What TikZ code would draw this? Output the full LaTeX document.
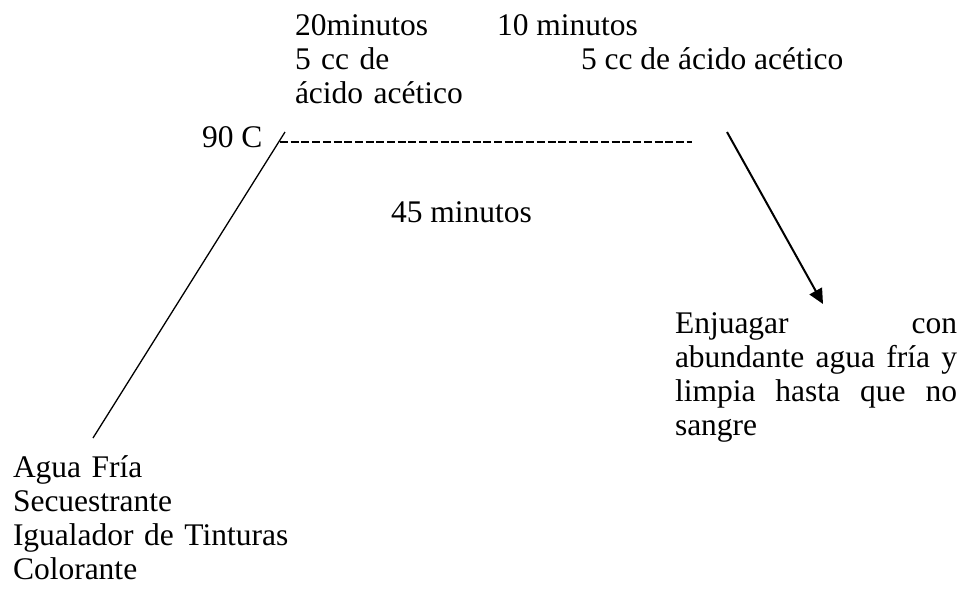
\documentclass[tikz,border=0pt]{standalone}
\usepackage{fontspec}
\setmainfont{Liberation Serif}
\usetikzlibrary{arrows.meta}
\begin{document}
\begin{tikzpicture}[x=1pt,y=-1pt]
		    \tikzstyle{every node}=[inner sep=0pt,outer sep=0pt,font=\fontsize{31.5}{34}\selectfont]
		    \tikzstyle{txt}=[anchor=base west]
		    \tikzstyle{blk}=[anchor=base west,align=left]
		    \useasboundingbox (0,0) rectangle (966,592);
		    \node[txt] (t20) at (295,35) {20minutos};
		    \node[txt] (t10) at (497,35) {10 minutos};
		    \node[blk,text width=220] (acidA) at (295,69) {5 cc de\\ácido acético};
		    \node[txt] (acidB) at (581,69) {5 cc de ácido acético};
		    \node[txt] (temp) at (202,147) {90 C};
		    \node[txt] (t45) at (391,222) {45 minutos};
		    \node[blk,text width=282,align=justify] (rinse) at (675,333)
		        {Enjuagar con\linebreak abundante agua fría y\linebreak limpia hasta que no\linebreak sangre};
		    \node[blk,text width=320] (bath) at (13,477)
		        {Agua Fría\\Secuestrante\\Igualador de Tinturas\\Colorante};
		    \coordinate (low) at (93,438);
		    \coordinate (high) at (285,132);
		    \coordinate (flatA) at (280,142);
		    \coordinate (flatB) at (692,142);
		    \coordinate (cool) at (727,132);
		    \coordinate (coolend) at (823,304);
		    \draw[line width=1.3] (low) -- (high);
		    \draw[line width=1.5,dash pattern=on 8 off 2.7] (flatA) -- (flatB);
		    \draw[line width=2,-{Triangle[length=15,width=14]}] (cool) -- (coolend);
\end{tikzpicture}
\end{document}
